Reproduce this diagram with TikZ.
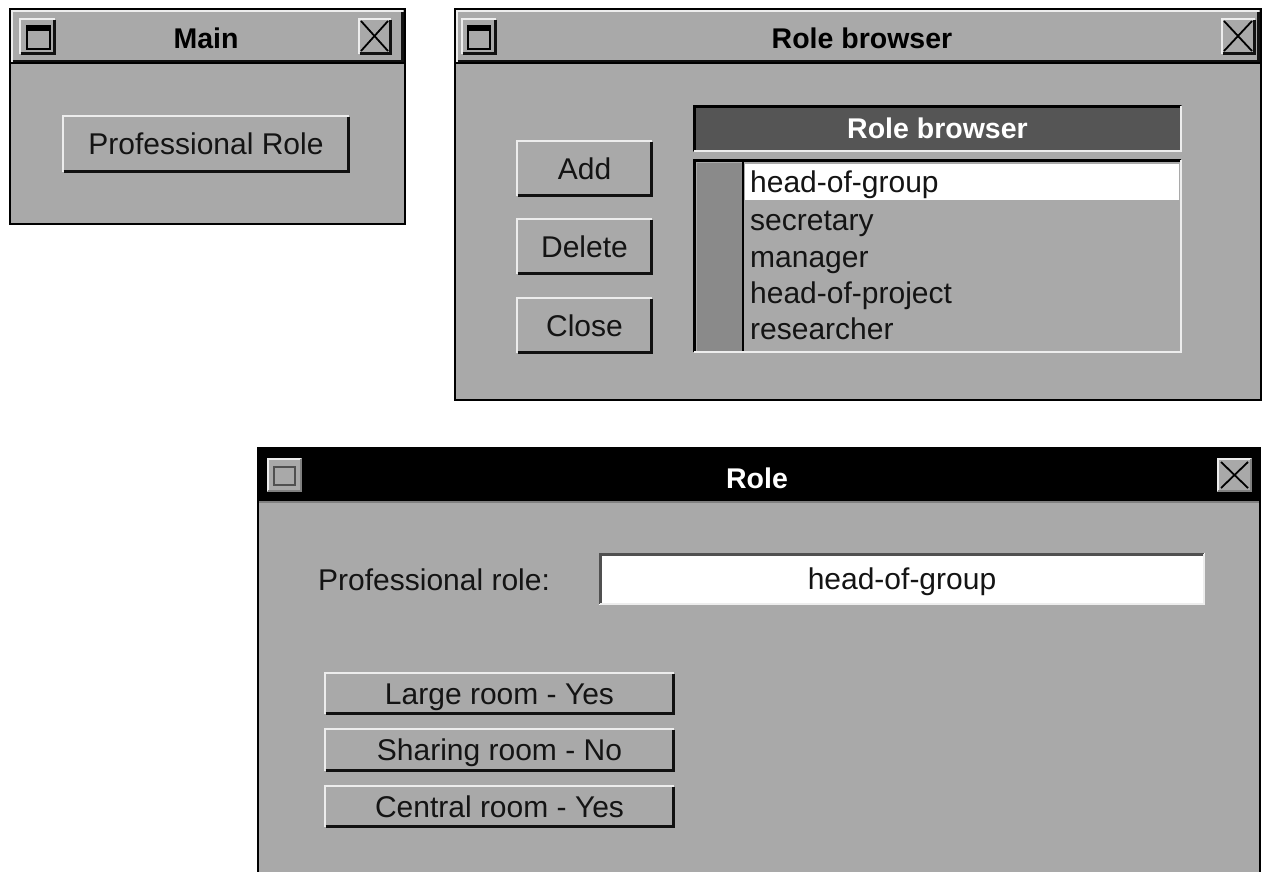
\documentclass[tikz,border=0pt]{standalone}
\usepackage{fontspec}
\setmainfont{Liberation Sans}
\definecolor{winbg}{HTML}{A9A9A9}
\definecolor{lightedge}{HTML}{EDEDED}
\definecolor{darkedge}{HTML}{111111}
\definecolor{hdrfill}{HTML}{555555}
\definecolor{stipple}{HTML}{8A8A8A}
\definecolor{fielddark}{HTML}{505050}
\definecolor{inktext}{HTML}{141414}

% raised and sunken 3D edges on a rectangular node
\newcommand\bevelup[1]{%
  \draw[lightedge,line width=2pt] ([xshift=1pt,yshift=1pt]#1.south west) |- ([xshift=-1pt,yshift=-1pt]#1.north east);
  \draw[darkedge,line width=3pt] ([xshift=1.5pt,yshift=1.5pt]#1.south west) -| ([xshift=-1.5pt,yshift=-1.5pt]#1.north east);}
\newcommand\beveldown[2]{%
  \draw[#2,line width=3pt] ([xshift=1.5pt,yshift=1.5pt]#1.south west) |- ([xshift=-1.5pt,yshift=-1.5pt]#1.north east);
  \draw[lightedge,line width=2pt] ([xshift=1pt,yshift=1pt]#1.south west) -| ([xshift=-1pt,yshift=-1pt]#1.north east);}

\begin{document}
\begin{tikzpicture}[x=1pt,y=-1pt,
  box/.style={anchor=north west,inner sep=0pt,outer sep=0pt,draw=none},
  winframe/.style={box,fill=winbg,draw=black,line width=2pt},
  button/.style={box,fill=winbg},
  uitext/.style={inner sep=0pt,font=\uifont,text=inktext,text height=21.5pt,text depth=0pt},
  titletext/.style={inner sep=0pt,font=\titlefont,text height=20.5pt,text depth=0pt},
  xmark/.style={line width=1.8pt,black},
]
\newcommand\uifont{\fontsize{30}{36}\selectfont}
\newcommand\titlefont{\fontsize{28.5}{34}\selectfont\bfseries}

\useasboundingbox (0,0) rectangle (1262,871);
\fill[white] (0,0) rectangle (1262,871);

%% ---------------- Main window ----------------
\node[winframe,minimum width=395pt,minimum height=215pt] (mainwin) at (10,9) {};
\node[box,fill=winbg,minimum width=393pt,minimum height=53pt] (maintitle) at (11,10) {};
\bevelup{maintitle}
\draw[black,line width=2pt] (maintitle.south west) -- (maintitle.south east);
\node[titletext] (maincap) at (206,38) {Main};
% window menu icon
\node[box,fill=winbg,minimum width=37pt,minimum height=37pt] (mainicon) at (19,18) {};
\bevelup{mainicon}
\node[box,draw=black,line width=2pt,minimum width=23pt,minimum height=23pt] (mainiconin) at (27,26) {};
\fill[black] (mainiconin.north west) rectangle ([yshift=-5pt]mainiconin.north east);
% close box
\node[box,fill=winbg,minimum width=34pt,minimum height=37pt] (mainclose) at (358,18) {};
\bevelup{mainclose}
\draw[xmark] ([xshift=3pt,yshift=-3pt]mainclose.north west) -- ([xshift=-4pt,yshift=4pt]mainclose.south east);
\draw[xmark] ([xshift=-4pt,yshift=-3pt]mainclose.north east) -- ([xshift=3pt,yshift=4pt]mainclose.south west);
% button
\node[button,minimum width=288pt,minimum height=58pt] (profbtn) at (62,115) {};
\bevelup{profbtn}
\node[uitext] at (profbtn.center) {Professional Role};

%% ---------------- Role browser window ----------------
\node[winframe,minimum width=806pt,minimum height=391pt] (rbwin) at (455,9) {};
\node[box,fill=winbg,minimum width=804pt,minimum height=53pt] (rbtitle) at (456,10) {};
\bevelup{rbtitle}
\draw[black,line width=2pt] (rbtitle.south west) -- (rbtitle.south east);
\node[titletext] (rbcap) at (862,38) {Role browser};
\node[box,fill=winbg,minimum width=36pt,minimum height=37pt] (rbicon) at (461,18) {};
\bevelup{rbicon}
\node[box,draw=black,line width=2pt,minimum width=22pt,minimum height=23pt] (rbiconin) at (468,26) {};
\fill[black] (rbiconin.north west) rectangle ([yshift=-5pt]rbiconin.north east);
\node[box,fill=winbg,minimum width=35pt,minimum height=37pt] (rbclose) at (1221,18) {};
\bevelup{rbclose}
\draw[xmark] ([xshift=3pt,yshift=-3pt]rbclose.north west) -- ([xshift=-4pt,yshift=4pt]rbclose.south east);
\draw[xmark] ([xshift=-4pt,yshift=-3pt]rbclose.north east) -- ([xshift=3pt,yshift=4pt]rbclose.south west);
% buttons
\node[button,minimum width=137pt,minimum height=57pt] (addbtn) at (516,140) {};
\bevelup{addbtn}
\node[uitext] at (addbtn.center) {Add};
\node[button,minimum width=137pt,minimum height=57pt] (delbtn) at (516,218) {};
\bevelup{delbtn}
\node[uitext] at (delbtn.center) {Delete};
\node[button,minimum width=137pt,minimum height=57pt] (closebtn) at (516,297) {};
\bevelup{closebtn}
\node[uitext] at (closebtn.center) {Close};
% list header
\node[box,fill=hdrfill,minimum width=489pt,minimum height=47pt] (listhdr) at (693,105) {};
\beveldown{listhdr}{black}
\node[titletext,text=white] at (listhdr.center) {Role browser};
% list box
\node[box,fill=winbg,minimum width=489pt,minimum height=194pt] (listbox) at (693,159) {};
\fill[stipple] (697,163) rectangle (742,351);
\draw[black,line width=2.5pt] (743,162) -- (743,352);
\fill[white] (745,164) rectangle (1179,200);
\beveldown{listbox}{black}
\node[uitext,anchor=west] (item1) at (750,182) {head-of-group};
\node[uitext,anchor=west] (item2) at (750,220) {secretary};
\node[uitext,anchor=west] (item3) at (750,257) {manager};
\node[uitext,anchor=west] (item4) at (750,293) {head-of-project};
\node[uitext,anchor=west] (item5) at (750,329) {researcher};

%% ---------------- Role window ----------------
\node[winframe,minimum width=1002pt,minimum height=430pt] (rolewin) at (258,448) {};
\fill[black] (259,449) rectangle (1259,501);
\draw[gray,line width=2pt] (259,502) -- (1259,502);
\node[titletext,text=white] (rolecap) at (757,478) {Role};
\node[box,fill=winbg,minimum width=35pt,minimum height=34pt] (roleicon) at (267,458) {};
\draw[lightedge,line width=2pt] ([xshift=1pt,yshift=1pt]roleicon.south west) |- ([xshift=-1pt,yshift=-1pt]roleicon.north east);
\draw[gray,line width=2pt] ([xshift=1pt,yshift=1pt]roleicon.south west) -| ([xshift=-1pt,yshift=-1pt]roleicon.north east);
\node[box,draw=fielddark,line width=2.5pt,minimum width=21pt,minimum height=18pt] (roleiconin) at (274,467) {};
\node[box,fill=winbg,minimum width=35pt,minimum height=34pt] (roleclose) at (1217,458) {};
\draw[lightedge,line width=2pt] ([xshift=1pt,yshift=1pt]roleclose.south west) |- ([xshift=-1pt,yshift=-1pt]roleclose.north east);
\draw[gray,line width=2pt] ([xshift=1pt,yshift=1pt]roleclose.south west) -| ([xshift=-1pt,yshift=-1pt]roleclose.north east);
\draw[xmark] ([xshift=4pt,yshift=-4pt]roleclose.north west) -- ([xshift=-4pt,yshift=4pt]roleclose.south east);
\draw[xmark] ([xshift=-4pt,yshift=-4pt]roleclose.north east) -- ([xshift=4pt,yshift=4pt]roleclose.south west);
% field
\node[uitext,anchor=west] (rolelabel) at (318,580) {Professional role:};
\node[box,fill=white,minimum width=606pt,minimum height=52pt] (rolefield) at (599,553) {};
\beveldown{rolefield}{fielddark}
\node[uitext] at (rolefield.center) {head-of-group};
% option buttons
\node[button,minimum width=351pt,minimum height=43pt] (largebtn) at (324,672) {};
\bevelup{largebtn}
\node[uitext] at (largebtn.center) {Large room - Yes};
\node[button,minimum width=351pt,minimum height=44pt] (sharebtn) at (324,728) {};
\bevelup{sharebtn}
\node[uitext] at (sharebtn.center) {Sharing room - No};
\node[button,minimum width=351pt,minimum height=43pt] (centralbtn) at (324,785) {};
\bevelup{centralbtn}
\node[uitext] at (centralbtn.center) {Central room - Yes};
\end{tikzpicture}
\end{document}
